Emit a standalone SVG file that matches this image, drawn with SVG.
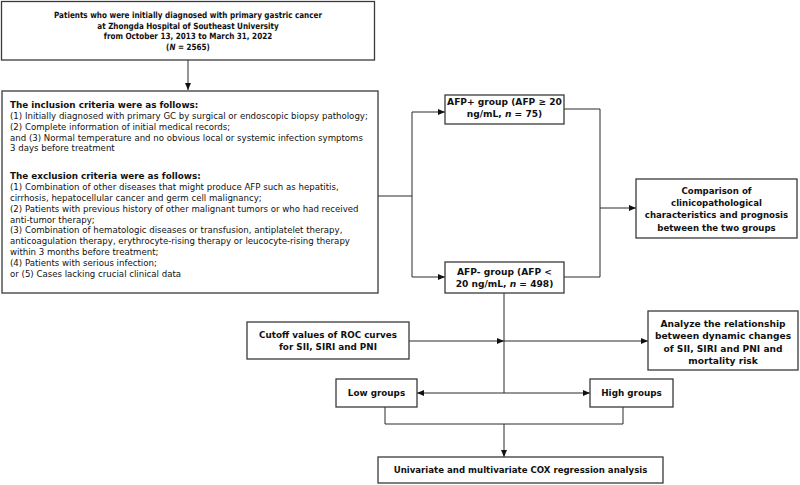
<svg xmlns="http://www.w3.org/2000/svg" width="800" height="485" viewBox="0 0 800 485">
<defs>
<style>
.box{fill:#fff;stroke:#3a3a3a;stroke-width:1.3}
.t{font-family:"DejaVu Sans",Verdana,sans-serif;font-size:8.6px;fill:#111}
.b{font-weight:bold}
.c{text-anchor:middle}
.h{font-size:8.8px}
.m{font-size:9.1px}
.ln{fill:none;stroke:#2a2a2a;stroke-width:1}
</style>
<marker id="ah" markerUnits="userSpaceOnUse" markerWidth="7" markerHeight="6" refX="7" refY="3" orient="auto-start-reverse">
<path d="M0,0 L7,3 L0,6 z" fill="#111"/>
</marker>
</defs>
<rect width="800" height="485" fill="#fff"/>

<g id="connectors">
<path class="ln" d="M188,60 V90" marker-end="url(#ah)"/>
<path class="ln" d="M378,196 H412 M412,112 V277"/>
<path class="ln" d="M412,112 H445" marker-end="url(#ah)"/>
<path class="ln" d="M412,277 H445" marker-end="url(#ah)"/>
<path class="ln" d="M564,109 H600 V277 H564"/>
<path class="ln" d="M600,208 H636" marker-end="url(#ah)"/>
<path class="ln" d="M504,293 V393"/>
<path class="ln" d="M409,341 H504" marker-end="url(#ah)"/>
<path class="ln" d="M504,341 H648" marker-end="url(#ah)"/>
<path class="ln" d="M417,393 H590" marker-start="url(#ah)" marker-end="url(#ah)"/>
<path class="ln" d="M385,407 V424 H623 V407"/>
<path class="ln" d="M504,424 V457" marker-end="url(#ah)"/>
</g>

<g id="patients">
<rect class="box" x="1.5" y="1.5" width="373" height="58.5"/>
<g transform="translate(188,0) scale(0.84,1) translate(-188,0)">
<text class="t b c" x="188" y="18.5">Patients who were initially diagnosed with primary gastric cancer</text>
<text class="t b c" x="188" y="29">at Zhongda Hospital of Southeast University</text>
<text class="t b c" x="188" y="39.5">from October 13, 2013 to March 31, 2022</text>
<text class="t b c" x="188" y="50">(<tspan font-style="italic">N</tspan> = 2565)</text>
</g>
</g>

<g id="criteria">
<rect class="box" x="2" y="91" width="376" height="202"/>
<text class="t b h" x="10" y="108">The inclusion criteria were as follows:</text>
<text class="t" x="10" y="118.8">(1) Initially diagnosed with primary GC by surgical or endoscopic biopsy pathology;</text>
<text class="t" x="10" y="129.7">(2) Complete information of initial medical records;</text>
<text class="t" x="10" y="140.5">and (3) Normal temperature and no obvious local or systemic infection symptoms</text>
<text class="t" x="10" y="151.3">3 days before treatment</text>
<text class="t b h" x="10" y="179.2">The exclusion criteria were as follows:</text>
<text class="t" x="10" y="190">(1) Combination of other diseases that might produce AFP such as hepatitis,</text>
<text class="t" x="10" y="200.8">cirrhosis, hepatocellular cancer and germ cell malignancy;</text>
<text class="t" x="10" y="211.7">(2) Patients with previous history of other malignant tumors or who had received</text>
<text class="t" x="10" y="222.5">anti-tumor therapy;</text>
<text class="t" x="10" y="233.3">(3) Combination of hematologic diseases or transfusion, antiplatelet therapy,</text>
<text class="t" x="10" y="244.2">anticoagulation therapy, erythrocyte-rising therapy or leucocyte-rising therapy</text>
<text class="t" x="10" y="255">within 3 months before treatment;</text>
<text class="t" x="10" y="265.8">(4) Patients with serious infection;</text>
<text class="t" x="10" y="276.7">or (5) Cases lacking crucial clinical data</text>
</g>

<g id="afp-pos">
<rect class="box" x="445" y="95" width="119" height="29"/>
<text class="t b c m" x="504.5" y="104.7">AFP+ group (AFP ≥ 20</text>
<text class="t b c m" x="504.5" y="117.3">ng/mL, <tspan font-style="italic">n</tspan> = 75)</text>
</g>

<g id="afp-neg">
<rect class="box" x="445" y="262" width="119" height="31"/>
<text class="t b c m" x="504.5" y="275.2">AFP- group (AFP &lt;</text>
<text class="t b c m" x="504.5" y="287.4">20 ng/mL, <tspan font-style="italic">n</tspan> = 498)</text>
</g>

<g id="comparison">
<rect class="box" x="636" y="179" width="161" height="59"/>
<text class="t b c" x="716.5" y="193.5" font-size="9.4">Comparison of</text>
<text class="t b c" x="716.5" y="205.9" font-size="9.4">clinicopathological</text>
<text class="t b c" x="716.5" y="218.3" font-size="9.4">characteristics and prognosis</text>
<text class="t b c" x="716.5" y="230.7" font-size="9.4">between the two groups</text>
</g>

<g id="cutoff">
<rect class="box" x="247" y="322" width="162" height="37"/>
<text class="t b c h" x="328" y="338.3">Cutoff values of ROC curves</text>
<text class="t b c h" x="328" y="350.2">for SII, SIRI and PNI</text>
</g>

<g id="analyze">
<rect class="box" x="648" y="311" width="150" height="59"/>
<text class="t b c m" x="723" y="327.2">Analyze the relationship</text>
<text class="t b c m" x="723" y="339.2">between dynamic changes</text>
<text class="t b c m" x="723" y="351.5">of SII, SIRI and PNI and</text>
<text class="t b c m" x="723" y="363.5">mortality risk</text>
</g>

<g id="low">
<rect class="box" x="336" y="379" width="81" height="28"/>
<text class="t b c h" x="376.5" y="396.3">Low groups</text>
</g>

<g id="high">
<rect class="box" x="590" y="379" width="83" height="28"/>
<text class="t b c h" x="631.5" y="396.3">High groups</text>
</g>

<g id="cox">
<rect class="box" x="378" y="457" width="285" height="26"/>
<text class="t b c" x="520.5" y="473.3">Univariate and multivariate COX regression analysis</text>
</g>
</svg>
